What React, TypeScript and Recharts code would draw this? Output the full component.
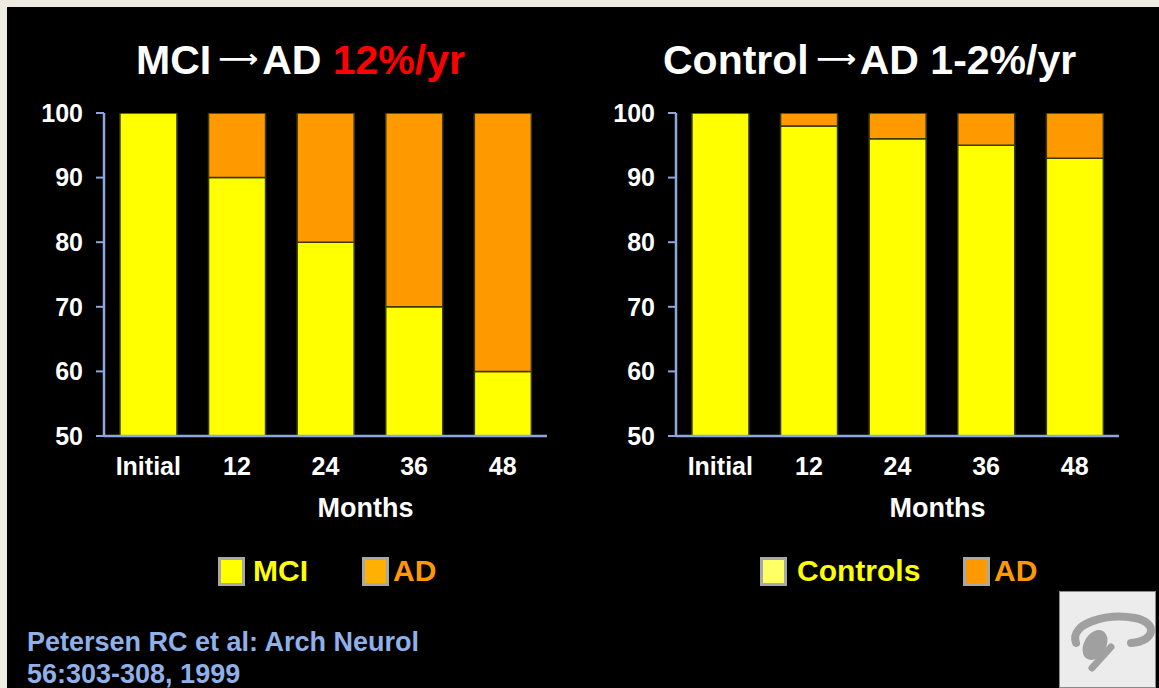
import { BarChart, Bar, XAxis, YAxis } from 'recharts';

// values (percent of group still without AD)
const months = ['Initial', '12', '24', '36', '48'];
const mciValues = [100, 90, 80, 70, 60];
const mciToAdValues = [0, 10, 20, 30, 40];
const controlValues = [100, 98, 96, 95, 93];
const controlToAdValues = [0, 2, 4, 5, 7];
const yTicks = [50, 60, 70, 80, 90, 100];

const leftLegend = [
  { label: 'MCI', fill: '#ffff00', text: '#ffff00' },
  { label: 'AD', fill: '#ffb000', text: '#ff9900' },
];
const rightLegend = [
  { label: 'Controls', fill: '#ffff66', text: '#ffff00' },
  { label: 'AD', fill: '#ff9900', text: '#ff9900' },
];

const FONT = '"Liberation Sans", Arial, sans-serif';
const AXIS = '#8fa6dc';
const YELLOW = '#ffff00';
const ORANGE = '#ff9900';
const EDGE = '#3a3a00';

const mciData = months.map((m, i) => ({ month: m, base: mciValues[i], ad: mciToAdValues[i] }));
const controlData = months.map((m, i) => ({ month: m, base: controlValues[i], ad: controlToAdValues[i] }));

type Row = { month: string; base: number; ad: number };

function MonthsLabel(props: any) {
  const vb = props.viewBox || { x: 0, y: 0, width: 0, height: 0 };
  return (
    <text x={vb.x + vb.width / 2 + 40} y={517} textAnchor="middle" fill="#fff" fontFamily={FONT} fontWeight="bold" fontSize={27}>
      Months
    </text>
  );
}

function Panel({ data, left, width, right }: { data: Row[]; left: number; width: number; right: number }) {
  return (
    <div style={{ position: 'absolute', left, top: 0 }}>
      <BarChart width={width} height={540} data={data} margin={{ top: 113, right, left: 0, bottom: 0 }} barCategoryGap="18%">
        <XAxis
          dataKey="month"
          height={104}
          tickSize={0}
          tickMargin={21}
          tickLine={false}
          axisLine={{ stroke: AXIS, strokeWidth: 2.5 }}
          tick={{ fill: '#fff', fontFamily: FONT, fontWeight: 'bold', fontSize: 25 }}
          interval={0}
          label={<MonthsLabel />}
        />
        <YAxis
          width={104}
          domain={[50, 100]}
          ticks={yTicks}
          allowDataOverflow
          tickSize={8}
          tickMargin={13}
          axisLine={{ stroke: AXIS, strokeWidth: 2.5 }}
          tickLine={{ stroke: AXIS, strokeWidth: 2 }}
          tick={{ fill: '#fff', fontFamily: FONT, fontWeight: 'bold', fontSize: 25 }}
        />
        <Bar dataKey="base" stackId="s" fill={YELLOW} stroke={EDGE} strokeWidth={1.5} isAnimationActive={false} />
        <Bar dataKey="ad" stackId="s" fill={ORANGE} stroke={EDGE} strokeWidth={1.5} isAnimationActive={false} />
      </BarChart>
    </div>
  );
}

function Legend({ items, positions }: { items: typeof leftLegend; positions: { box: number; text: number }[] }) {
  return (
    <>
      {items.map((it, i) => (
        <div key={it.label}>
          <div
            style={{
              position: 'absolute',
              left: positions[i].box,
              top: 557,
              width: 21,
              height: 23,
              background: it.fill,
              border: '3px solid #a8a8a8',
            }}
          />
          <div
            style={{
              position: 'absolute',
              left: positions[i].text,
              top: 553,
              fontFamily: FONT,
              fontWeight: 'bold',
              fontSize: 30,
              lineHeight: '36px',
              color: it.text,
            }}
          >
            {it.label}
          </div>
        </div>
      ))}
    </>
  );
}

// wide thin arrow like the slide's symbol-font arrow
function Arrow() {
  return (
    <svg width={40} height={30} style={{ display: 'inline-block', margin: '0 4px 0 7px', overflow: 'visible' }}>
      <text
        x={0}
        y={23}
        textLength={40}
        lengthAdjust="spacingAndGlyphs"
        fill="#fff"
        fontFamily='"DejaVu Sans", sans-serif'
        fontSize={25}
      >
        ⟶
      </text>
    </svg>
  );
}

export default function App() {
  const titleStyle: React.CSSProperties = {
    position: 'absolute',
    top: 36,
    fontFamily: FONT,
    fontWeight: 'bold',
    fontSize: 41,
    lineHeight: '48px',
    color: '#fff',
    whiteSpace: 'nowrap',
  };
  return (
    <div style={{ position: 'absolute', left: 0, top: 0, width: 1159, height: 688, background: '#eeebe1', overflow: 'hidden' }}>
      <div style={{ position: 'absolute', left: 7, top: 7, right: 0, bottom: 0, background: '#000' }} />

      <div style={{ ...titleStyle, left: 136 }}>
        MCI<Arrow />AD <span style={{ color: '#ff0000' }}>12%/yr</span>
      </div>
      <div style={{ ...titleStyle, left: 663 }}>
        Control<Arrow />AD 1-2%/yr
      </div>

      <Panel data={mciData} left={0} width={600} right={53} />
      <Panel data={controlData} left={572} width={587} right={40} />

      <Legend items={leftLegend} positions={[{ box: 218, text: 253 }, { box: 362, text: 393 }]} />
      <Legend items={rightLegend} positions={[{ box: 760, text: 797 }, { box: 963, text: 994 }]} />

      <div
        style={{
          position: 'absolute',
          left: 27,
          top: 626,
          fontFamily: FONT,
          fontWeight: 'bold',
          fontSize: 27,
          lineHeight: '32px',
          color: '#8fb0e8',
          whiteSpace: 'nowrap',
        }}
      >
        Petersen RC et al: Arch Neurol
        <br />
        56:303-308, 1999
      </div>

      <svg style={{ position: 'absolute', left: 1059, top: 591 }} width={98} height={97}>
        <rect x={0.5} y={0.5} width={96} height={96} fill="#ececec" stroke="#8a8a8a" />
        <path d="M17 52 C 10 32, 48 22, 76 27 C 98 31, 98 50, 72 52" fill="none" stroke="#a0a0a0" strokeWidth={8} strokeLinecap="round" />
        <ellipse cx={36} cy={54} rx={11} ry={16} transform="rotate(30 36 54)" fill="#a0a0a0" />
        <path d="M52 56 L 33 77" stroke="#a0a0a0" strokeWidth={7} strokeLinecap="round" />
      </svg>
    </div>
  );
}
